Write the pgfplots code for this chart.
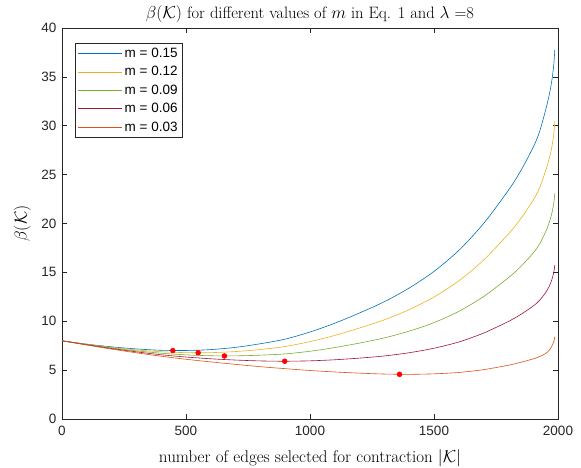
\documentclass[border=0pt]{standalone}
\usepackage{pgfplots}
\pgfplotsset{compat=1.18}
\usepackage{fontspec}
\newfontfamily\arial{Liberation Sans}
\definecolor{mblue}{rgb}{0,0.447,0.741}
\definecolor{myellow}{rgb}{0.929,0.694,0.125}
\definecolor{mgreen}{rgb}{0.466,0.674,0.188}
\definecolor{mred}{rgb}{0.635,0.078,0.184}
\definecolor{morange}{rgb}{0.85,0.325,0.098}
\definecolor{axgray}{rgb}{0.15,0.15,0.15}

\begin{document}
\begin{tikzpicture}
\begin{axis}[
    at={(0pt,0pt)}, anchor=south west,
    scale only axis,
    width=496pt,
    height=391pt,
    xmin=0, xmax=2000,
    ymin=0, ymax=40,
    xtick={0,500,1000,1500,2000},
    ytick={0,5,10,15,20,25,30,35,40},
    tick align=inside,
    xtick pos=both, ytick pos=both,
    major tick length=5pt,
    axis line style={axgray},
    tick style={axgray, line width=0.5pt},
    ticklabel style={font=\arial\fontsize{13.5}{15}\selectfont, text=axgray},
    xticklabel style={yshift=-4pt},
    yticklabel style={xshift=-2pt},
    /pgf/number format/assume math mode=true,
    /pgf/number format/1000 sep={},
    title={$\beta(\mathcal{K})$ for different values of $m$ in Eq. 1 and $\lambda$ =8},
    title style={font=\fontsize{16.5}{18}\selectfont, at={(axis description cs:0.5,1.021)}, anchor=center},
    xlabel={number of edges selected for contraction $\big|\mathcal{K}\big|$},
    xlabel style={font=\fontsize{17}{19}\selectfont, at={(axis description cs:0.5,-0.1)}, anchor=center},
    ylabel={$\beta(\mathcal{K})$},
    ylabel style={font=\fontsize{17}{19}\selectfont, at={(axis description cs:-0.08,0.5)}, anchor=center},
    legend style={at={(0.026,0.962)}, anchor=north west, draw=axgray,
        font=\arial\fontsize{13.5}{15}\selectfont, row sep=3.5pt,
        inner xsep=3pt, inner ysep=3pt},
    legend cell align={left},
    legend image code/.code={\draw[#1, line width=0.6pt] (0pt,0pt) -- (44pt,0pt);},
    every axis plot/.append style={line width=0.6pt},
]

% m = 0.15
\addplot[mblue, smooth] coordinates {
(0,8.00) (100,7.66) (200,7.38) (300,7.17) (400,7.03) (500,7.01) (600,7.10)
(700,7.33) (800,7.70) (900,8.17) (1000,8.90) (1100,9.80) (1200,10.85)
(1300,12.00) (1400,13.40) (1500,15.10) (1600,17.25) (1700,20.00) (1800,23.40)
(1850,25.40) (1900,27.80) (1925,29.35) (1950,31.60) (1965,33.20) (1975,34.60)
(1982,36.00) (1985,36.90) (1987,37.75)};

% m = 0.12
\addplot[myellow, smooth] coordinates {
(0,8.00) (100,7.64) (200,7.32) (300,7.07) (400,6.88) (500,6.79) (600,6.79)
(700,6.90) (800,7.11) (900,7.42) (1000,7.92) (1100,8.55) (1200,9.31)
(1300,10.15) (1400,11.19) (1500,12.48) (1600,14.13) (1700,16.26) (1800,18.93)
(1850,20.50) (1900,22.39) (1925,23.61) (1950,25.38) (1965,26.66) (1975,27.81)
(1982,28.96) (1985,29.70) (1987,30.42)};

% m = 0.09
\addplot[mgreen, smooth] coordinates {
(0,8.00) (100,7.62) (200,7.27) (300,6.97) (400,6.73) (500,6.56) (600,6.47)
(700,6.46) (800,6.53) (900,6.66) (1000,6.93) (1100,7.31) (1200,7.77)
(1300,8.30) (1400,8.99) (1500,9.86) (1600,11.01) (1700,12.53) (1800,14.45)
(1850,15.60) (1900,16.98) (1925,17.87) (1950,19.15) (1965,20.13) (1975,21.03)
(1982,21.93) (1985,22.50) (1987,23.09)};

% m = 0.06
\addplot[mred, smooth] coordinates {
(0,8.00) (100,7.59) (200,7.21) (300,6.87) (400,6.57) (500,6.34) (600,6.16)
(700,6.03) (800,5.94) (900,5.91) (1000,5.95) (1100,6.06) (1200,6.23)
(1300,6.45) (1400,6.78) (1500,7.24) (1600,7.88) (1700,8.79) (1800,9.98)
(1850,10.70) (1900,11.56) (1925,12.12) (1950,12.93) (1965,13.59) (1975,14.24)
(1982,14.89) (1985,15.30) (1987,15.75)};

% m = 0.03
\addplot[morange, smooth] coordinates {
(0,8.00) (100,7.57) (200,7.15) (300,6.77) (400,6.42) (500,6.11) (600,5.84)
(700,5.59) (800,5.35) (900,5.15) (1000,4.96) (1100,4.81) (1200,4.69)
(1300,4.60) (1400,4.57) (1500,4.62) (1600,4.76) (1700,5.05) (1800,5.50)
(1850,5.80) (1900,6.15) (1925,6.38) (1950,6.70) (1965,7.05) (1975,7.45)
(1982,7.85) (1985,8.10) (1987,8.42)};

% minima
\addplot[only marks, mark=*, mark size=2.4pt, color=red, forget plot] coordinates {
(447,7.00) (549,6.78) (655,6.45) (898,5.91) (1361,4.57)};

\legend{m = 0.15, m = 0.12, m = 0.09, m = 0.06, m = 0.03}
\end{axis}
\pgfresetboundingbox
\path[use as bounding box] (-62pt,-49pt) rectangle (519pt,419pt);
\end{tikzpicture}
\end{document}
